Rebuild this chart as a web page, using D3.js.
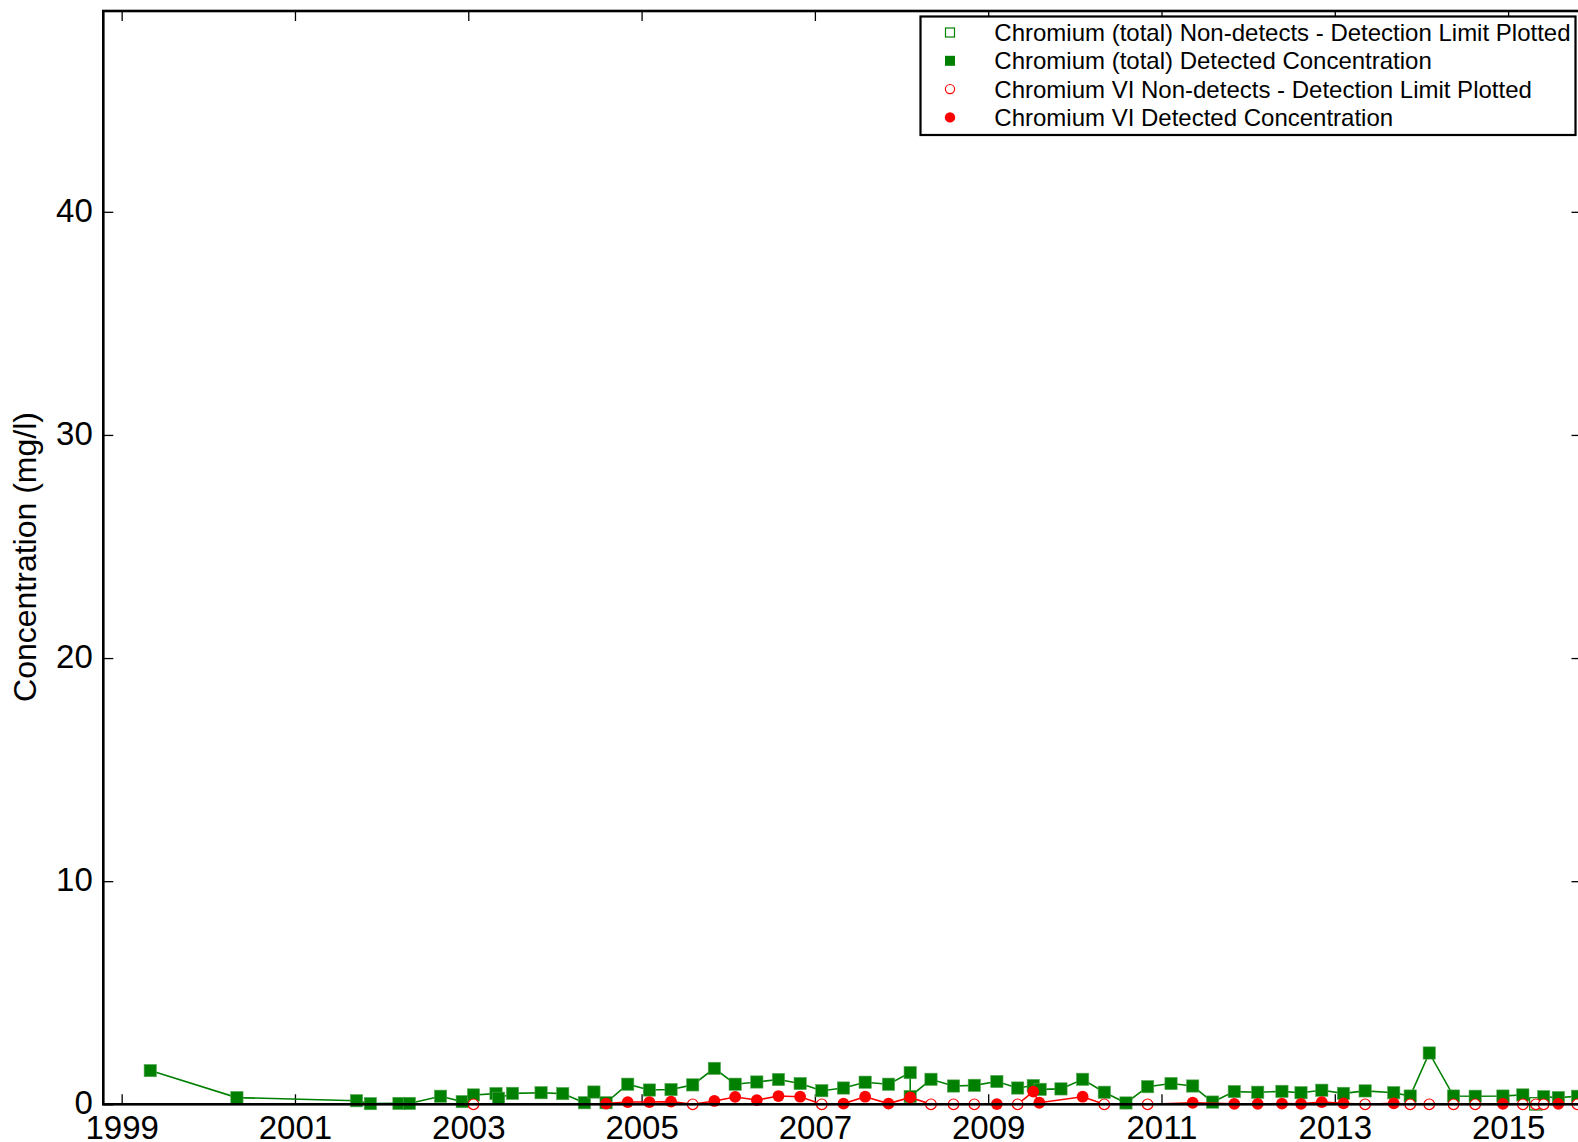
<!DOCTYPE html>
<html>
<head>
<meta charset="utf-8">
<script src="https://cdn.jsdelivr.net/npm/d3@7"></script>
<style>
  html, body { margin: 0; padding: 0; background: #fff; }
  svg { display: block; font-family: "Liberation Sans", Arial, sans-serif; }
</style>
</head>
<body>
<svg id="chart" width="1578" height="1142"></svg>
<script>
// ---- Data (decimal year, concentration mg/l) ----
const crTotalDates = [1999.33, 2000.33, 2001.71, 2001.87, 2002.20, 2002.32, 2002.68, 2002.93, 2003.06, 2003.32,
  2003.35, 2003.51, 2003.84, 2004.09, 2004.34, 2004.45, 2004.59, 2004.84, 2005.09, 2005.34,
  2005.59, 2005.84, 2006.08, 2006.33, 2006.58, 2006.83, 2007.08, 2007.33, 2007.58, 2007.85,
  2008.10, 2008.10, 2008.34, 2008.60, 2008.84, 2009.10, 2009.34, 2009.52, 2009.60, 2009.84,
  2010.09, 2010.34, 2010.59, 2010.84, 2011.11, 2011.36, 2011.59, 2011.84, 2012.11, 2012.39,
  2012.61, 2012.85, 2013.10, 2013.35, 2013.68, 2013.87, 2014.09, 2014.37, 2014.62, 2014.94,
  2015.17, 2015.32, 2015.41, 2015.58, 2015.80];
const crTotalValues = [1.51, 0.30, 0.16, 0.03, 0.04, 0.04, 0.36, 0.12, 0.42, 0.48,
  0.27, 0.49, 0.52, 0.48, 0.07, 0.55, 0.07, 0.90, 0.64, 0.66,
  0.87, 1.61, 0.90, 1.00, 1.11, 0.93, 0.61, 0.73, 0.99, 0.90,
  1.42, 0.35, 1.12, 0.82, 0.85, 1.02, 0.73, 0.84, 0.67, 0.69,
  1.12, 0.54, 0.06, 0.79, 0.93, 0.82, 0.10, 0.57, 0.54, 0.58,
  0.52, 0.63, 0.49, 0.60, 0.52, 0.37, 2.30, 0.37, 0.36, 0.37,
  0.42, 0.02, 0.34, 0.30, 0.36];
// 1 = non-detect (detection limit plotted), 0 = detected
const crTotalND = [0,0,0,0,0,0,0,0,0,0, 0,0,0,0,0,0,0,0,0,0, 0,0,0,0,0,0,0,0,0,0,
  0,0,0,0,0,0,0,0,0,0, 0,0,0,0,0,0,0,0,0,0, 0,0,0,0,0,0,0,0,0,0, 0,1,0,0,0];

const cr6Dates = [2003.06, 2004.59, 2004.84, 2005.09, 2005.34, 2005.59, 2005.84, 2006.08, 2006.33, 2006.58,
  2006.83, 2007.08, 2007.33, 2007.58, 2007.85, 2008.10, 2008.34, 2008.60, 2008.84, 2009.10,
  2009.34, 2009.52, 2009.59, 2010.09, 2010.34, 2010.84, 2011.36, 2011.84, 2012.11, 2012.39,
  2012.61, 2012.85, 2013.10, 2013.35, 2013.68, 2013.87, 2014.09, 2014.37, 2014.62, 2014.94,
  2015.17, 2015.32, 2015.41, 2015.58, 2015.80];
const cr6Values = [0.00, 0.03, 0.10, 0.10, 0.12, 0.00, 0.15, 0.33, 0.19, 0.37,
  0.34, 0.00, 0.03, 0.34, 0.03, 0.31, 0.00, 0.00, 0.00, 0.01,
  0.00, 0.57, 0.07, 0.34, 0.00, 0.00, 0.07, 0.02, 0.02, 0.03,
  0.02, 0.10, 0.04, 0.00, 0.04, 0.00, 0.00, 0.00, 0.00, 0.02,
  0.00, 0.00, 0.00, 0.02, 0.00];
const cr6ND = [1,0,0,0,0,1,0,0,0,0, 0,1,0,0,0,0,1,1,1,0, 1,0,0,0,1,1,0,0,0,0,
  0,0,0,1,0,1,1,1,1,0, 1,1,1,0,1];

const xTickValues = [1999, 2001, 2003, 2005, 2007, 2009, 2011, 2013, 2015];
const yTickValues = [0, 10, 20, 30, 40];
const legendLabels = [
  "Chromium (total) Non-detects - Detection Limit Plotted",
  "Chromium (total) Detected Concentration",
  "Chromium VI Non-detects - Detection Limit Plotted",
  "Chromium VI Detected Concentration"
];
const yLabel = "Concentration (mg/l)";

// ---- Layout ----
const green = "#008000", red = "#ff0000";
const L = 103.3, R = 1581.5, T = 11, B = 1104.3;
const svg = d3.select("#chart");

const x = d3.scaleLinear().domain([1998.788, 2015.847]).range([L, R]);
const y = d3.scaleLinear().domain([0, 49]).range([B, T]);

// axes (inward ticks)
const tickFont = 33;
const gx = svg.append("g").attr("transform", `translate(0,${B})`)
  .call(d3.axisBottom(x).tickValues(xTickValues).tickFormat(d3.format("d")).tickSize(-10));
gx.selectAll("text").attr("y", 35.2).attr("dy", null);
const gxt = svg.append("g").attr("transform", `translate(0,${T})`)
  .call(d3.axisTop(x).tickValues(xTickValues).tickFormat("").tickSize(-10));
const gy = svg.append("g").attr("transform", `translate(${L},0)`)
  .call(d3.axisLeft(y).tickValues(yTickValues).tickSize(-10).tickPadding(10.5));
gy.selectAll("text").attr("dy", "0.28em");
const gyr = svg.append("g").attr("transform", `translate(${R},0)`)
  .call(d3.axisRight(y).tickValues(yTickValues).tickFormat("").tickSize(-10));

[gx, gxt, gy, gyr].forEach(g => {
  g.select(".domain").remove();
  g.selectAll("line").attr("stroke", "#000").attr("stroke-width", 1.3);
  g.selectAll("text").attr("font-size", tickFont).attr("fill", "#000")
    .attr("font-family", "'Liberation Sans', Arial, sans-serif");
});

// y label
svg.append("text")
  .attr("transform", `translate(36,557) rotate(-90)`)
  .attr("text-anchor", "middle")
  .attr("font-size", 32)
  .attr("fill", "#000")
  .text(yLabel);

// ---- Series ----
const totalPts = crTotalDates.map((d, i) => ({ x: d, v: crTotalValues[i], nd: crTotalND[i] }));
const cr6Pts = cr6Dates.map((d, i) => ({ x: d, v: cr6Values[i], nd: cr6ND[i] }));
const line = d3.line().x(d => x(d.x)).y(d => y(d.v));

const plot = svg.append("g");
plot.append("path").datum(totalPts).attr("d", line)
  .attr("fill", "none").attr("stroke", green).attr("stroke-width", 1.6);
const sq = 12.3;
plot.selectAll(".sq").data(totalPts).enter().append("rect")
  .attr("x", d => x(d.x) - sq / 2).attr("y", d => y(d.v) - sq / 2)
  .attr("width", sq).attr("height", sq)
  .attr("fill", d => d.nd ? "#fff" : green)
  .attr("stroke", d => d.nd ? green : "#5aa95a")
  .attr("stroke-width", d => d.nd ? 1.2 : 0.6);

plot.append("path").datum(cr6Pts).attr("d", line)
  .attr("fill", "none").attr("stroke", red).attr("stroke-width", 1.6);
plot.selectAll(".ci").data(cr6Pts).enter().append("circle")
  .attr("cx", d => x(d.x)).attr("cy", d => y(d.v))
  .attr("r", d => d.nd ? 5.3 : 5.9)
  .attr("fill", d => d.nd ? "#fff" : red)
  .attr("stroke", red)
  .attr("stroke-width", d => d.nd ? 1.2 : 0);

// spines (drawn on top)
svg.append("rect").attr("x", L).attr("y", T).attr("width", R - L).attr("height", B - T)
  .attr("fill", "none").attr("stroke", "#000").attr("stroke-width", 2.6);

// ---- Legend ----
const lg = svg.append("g");
lg.append("rect").attr("x", 920.5).attr("y", 16.5).attr("width", 655).attr("height", 118.5)
  .attr("fill", "#fff").attr("stroke", "#000").attr("stroke-width", 2.2);
const rowY = [32.5, 60.8, 89.1, 117.4];
const mx = 950;
// row 0: open green square
lg.append("rect").attr("x", mx - 4.5).attr("y", rowY[0] - 4.5).attr("width", 9).attr("height", 9)
  .attr("fill", "#fff").attr("stroke", green).attr("stroke-width", 1.2);
// row 1: filled green square
lg.append("rect").attr("x", mx - 5).attr("y", rowY[1] - 5).attr("width", 10).attr("height", 10)
  .attr("fill", green);
// row 2: open red circle
lg.append("circle").attr("cx", mx).attr("cy", rowY[2]).attr("r", 4.6)
  .attr("fill", "#fff").attr("stroke", red).attr("stroke-width", 1.2);
// row 3: filled red circle
lg.append("circle").attr("cx", mx).attr("cy", rowY[3]).attr("r", 5.2).attr("fill", red);
lg.selectAll(".lt").data(legendLabels).enter().append("text")
  .attr("x", 994.3).attr("y", (d, i) => rowY[i] + 8.4)
  .attr("font-size", 24).attr("fill", "#000").text(d => d);
</script>
</body>
</html>
